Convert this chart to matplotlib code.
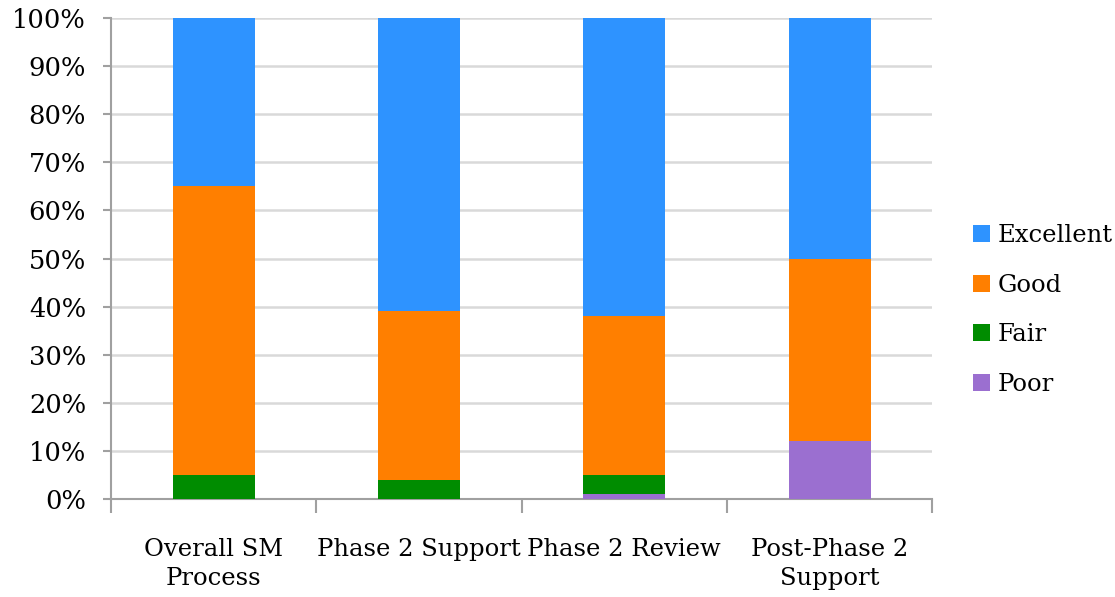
import matplotlib
matplotlib.use("Agg")
import matplotlib.pyplot as plt
import numpy as np

categories = ["Overall SM\nProcess", "Phase 2 Support", "Phase 2 Review", "Post-Phase 2\nSupport"]
poor = [0, 0, 1, 12]
fair = [5, 4, 4, 0]
good = [60, 35, 33, 38]
excellent = [35, 61, 62, 50]

series = [("Poor", poor, "#9B6FD0"),
          ("Fair", fair, "#008C00"),
          ("Good", good, "#FF7F00"),
          ("Excellent", excellent, "#2E93FF")]

plt.rcParams["font.family"] = ["DejaVu Serif"]
FS = 17.5

fig = plt.figure(figsize=(11.15, 5.97), dpi=100)
ax = fig.add_axes([0.0996, 0.164, 0.7365, 0.806])

x = np.arange(len(categories))
bottom = np.zeros(len(categories))
handles = {}
for name, vals, color in series:
    h = ax.bar(x, vals, width=0.4, bottom=bottom, color=color, zorder=3,
               edgecolor="none")
    handles[name] = h
    bottom += np.array(vals)

ax.set_xlim(-0.5, len(categories) - 0.5)
ax.set_ylim(0, 100)
ax.set_yticks(np.arange(0, 101, 10))
ax.set_yticklabels([f"{v}%" for v in range(0, 101, 10)], fontsize=18.5)
ax.yaxis.grid(True, color="#d9d9d9", linewidth=1.8, zorder=0)

ax.set_xticks(x)
ax.set_xticklabels(categories, fontsize=FS, linespacing=1.35)
ax.tick_params(axis="x", length=0, pad=28)
ax.set_xticks(np.arange(-0.5, len(categories)), minor=True)
ax.tick_params(axis="x", which="minor", length=10, width=1.5, color="#a0a0a0")
ax.tick_params(axis="y", length=6, width=1.5, color="#a0a0a0", pad=12)

for s in ["top", "right"]:
    ax.spines[s].set_visible(False)
for s in ["left", "bottom"]:
    ax.spines[s].set_color("#a0a0a0")
    ax.spines[s].set_linewidth(1.5)

order = ["Excellent", "Good", "Fair", "Poor"]
ax.legend([handles[n] for n in order], order, loc="center left",
          bbox_to_anchor=(1.038, 0.393), frameon=False, fontsize=FS,
          handlelength=0.7, handleheight=0.7, handletextpad=0.3,
          labelspacing=1.1, borderaxespad=0)

fig.savefig("out.png", dpi=100)
